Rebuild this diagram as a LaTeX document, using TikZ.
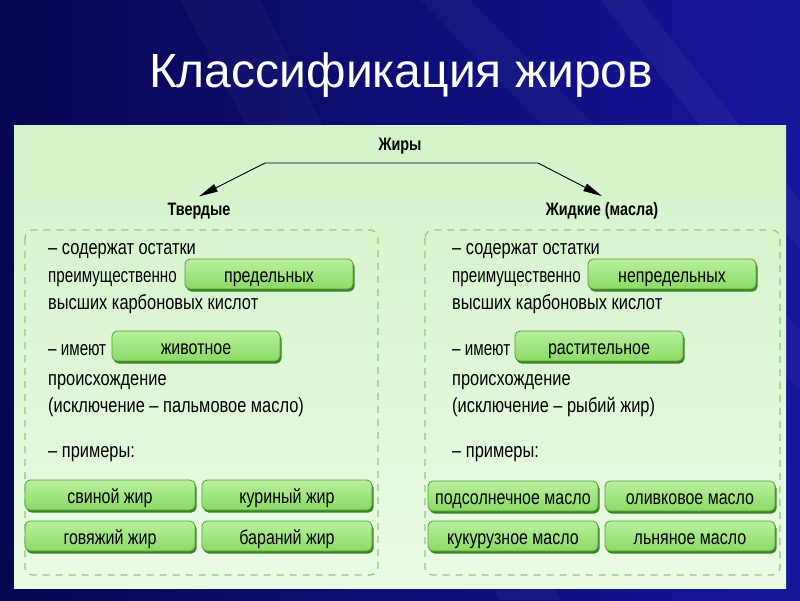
\documentclass[tikz,border=0pt]{standalone}
\usepackage{fontspec}
\setmainfont{Liberation Sans}
\newfontfamily\narrowfont[FakeStretch=0.8]{Liberation Sans}
\newfontfamily\narrowerfont[FakeStretch=0.74]{Liberation Sans}
\usetikzlibrary{arrows.meta,positioning,shadows}

\definecolor{bgdark}{RGB}{6,6,82}
\definecolor{bglight}{RGB}{22,22,155}
\definecolor{paneltop}{RGB}{210,243,200}
\definecolor{panelbot}{RGB}{234,251,228}
\definecolor{dashgreen}{RGB}{138,206,116}
\definecolor{boxtop}{RGB}{184,240,156}
\definecolor{boxbot}{RGB}{138,218,102}
\definecolor{boxedge}{RGB}{84,160,58}
\definecolor{boxshadow}{RGB}{60,130,40}

\begin{document}
\begin{tikzpicture}[x=1pt, y=-1pt,
  greenbox/.style={draw=boxedge, line width=0.8pt, rounded corners=5pt,
    top color=boxtop, bottom color=boxbot, minimum width=168pt,
    minimum height=30pt, inner sep=0pt, text height=17pt, text depth=0pt,
    font=\narrowfont\fontsize{20}{21}\selectfont,
    drop shadow={shadow xshift=1.5pt, shadow yshift=-2.5pt, fill=boxshadow, opacity=1}},
  txt/.style={anchor=base west, inner sep=0pt, font=\narrowfont\fontsize{20.5}{21}\selectfont},
  tighttxt/.style={txt, font=\narrowerfont\fontsize{20.5}{21}\selectfont},
  head/.style={font=\narrowfont\bfseries\fontsize{18}{19}\selectfont},
  dashbox/.style={draw=dashgreen, line width=1.2pt, dash pattern=on 7pt off 6pt, rounded corners=8pt},
  arr/.style={{Triangle[length=19pt,width=8pt]}-{Triangle[length=19pt,width=8pt]}, line width=0.9pt}
]
% background
\useasboundingbox (0,0) rectangle (800,600);
\fill[left color=bgdark, right color=bglight] (0,0) rectangle (800,600);
\fill[white, opacity=0.03] (180,0) -- (260,0) -- (560,600) -- (500,600) -- cycle;
\fill[white, opacity=0.03] (420,0) -- (470,0) -- (800,330) -- (800,390) -- cycle;
\fill[white, opacity=0.04] (600,0) -- (640,0) -- (800,200) -- (800,250) -- cycle;

\node[white, font=\fontsize{48}{50}\selectfont] (title) at (401,75) {Классификация жиров};

% panel
\fill[top color=paneltop, bottom color=panelbot] (14,125) rectangle (786,588);

\node[head] (fats) at (400,146) {Жиры};
\node[head] (solid) at (199,211) {Твердые};
\node[head] (liquid) at (602,211) {Жидкие (масла)};
\coordinate (jl) at (265,163);
\coordinate (jr) at (538,163);
\draw[arr] ([yshift=3pt]solid.north) -- (jl) -- (jr) -- ([yshift=3pt]liquid.north);

\draw[dashbox] (25,230) rectangle (378,575);
\draw[dashbox] (425,230) rectangle (780,575);

% Solid fats
\node[txt] (s1) at (48,254) {– содержат остатки};
\node[tighttxt] (s2) at (48,282) {преимущественно};
\node[greenbox] (pred) at (269,274) {предельных};
\node[txt] (s3) at (48,309) {высших карбоновых кислот};
\node[tighttxt] (s4) at (48,355) {– имеют};
\node[greenbox] (zhiv) at (196,346) {животное};
\node[txt] (s5) at (48,385) {происхождение};
\node[txt] (s6) at (48,412) {(исключение – пальмовое масло)};
\node[txt] (s7) at (48,457) {– примеры:};
\node[greenbox, minimum width=170pt] (svin) at (110,495) {свиной жир};
\node[greenbox, minimum width=170pt] (kur) at (287,495) {куриный жир};
\node[greenbox, minimum width=170pt] (gov) at (110,536) {говяжий жир};
\node[greenbox, minimum width=170pt] (bar) at (287,536) {бараний жир};

% Liquid fats
\node[txt] (l1) at (452,254) {– содержат остатки};
\node[tighttxt] (l2) at (452,282) {преимущественно};
\node[greenbox] (nepred) at (672,274) {непредельных};
\node[txt] (l3) at (452,309) {высших карбоновых кислот};
\node[tighttxt] (l4) at (452,355) {– имеют};
\node[greenbox] (rast) at (599,346) {растительное};
\node[txt] (l5) at (452,385) {происхождение};
\node[txt] (l6) at (452,412) {(исключение – рыбий жир)};
\node[txt] (l7) at (452,457) {– примеры:};
\node[greenbox, minimum width=170pt] (podsol) at (513,496) {подсолнечное масло};
\node[greenbox, minimum width=170pt] (oliv) at (690,496) {оливковое масло};
\node[greenbox, minimum width=170pt] (kuk) at (513,536) {кукурузное масло};
\node[greenbox, minimum width=170pt] (lnyan) at (690,536) {льняное масло};
\end{tikzpicture}
\end{document}
